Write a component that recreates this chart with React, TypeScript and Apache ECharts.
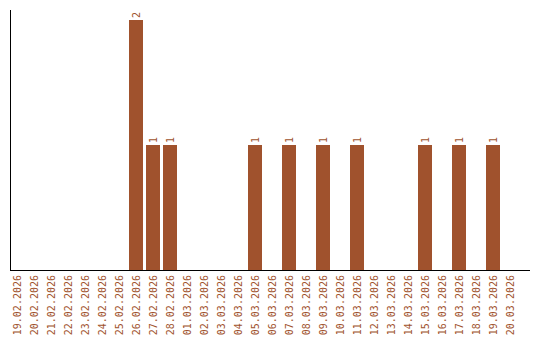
import React, { useEffect, useRef } from "react";
import * as echarts from "echarts";

const categories: string[] = [
  "19.02.2026", "20.02.2026", "21.02.2026", "22.02.2026", "23.02.2026",
  "24.02.2026", "25.02.2026", "26.02.2026", "27.02.2026", "28.02.2026",
  "01.03.2026", "02.03.2026", "03.03.2026", "04.03.2026", "05.03.2026",
  "06.03.2026", "07.03.2026", "08.03.2026", "09.03.2026", "10.03.2026",
  "11.03.2026", "12.03.2026", "13.03.2026", "14.03.2026", "15.03.2026",
  "16.03.2026", "17.03.2026", "18.03.2026", "19.03.2026", "20.03.2026",
];

const values: number[] = [
  0, 0, 0, 0, 0, 0, 0, 2, 1, 1,
  0, 0, 0, 0, 1, 0, 1, 0, 1, 0,
  1, 0, 0, 0, 1, 0, 1, 0, 1, 0,
];

const COLOR = "#A0522D";
const FONT = "DejaVu Sans Mono";

export default function App() {
  const ref = useRef<HTMLDivElement>(null);
  useEffect(() => {
    document.body.style.margin = "0";
    if (!ref.current) return;
    const chart = echarts.init(ref.current, null, { renderer: "svg" });
    chart.setOption({
      animation: false,
      grid: { left: 8.5, right: 21.5, top: 10, bottom: 70, containLabel: false },
      xAxis: {
        type: "category",
        data: categories,
        boundaryGap: true,
        axisLine: { show: false },
        axisTick: { show: false },
        axisLabel: {
          rotate: 90,
          interval: 0,
          margin: 5,
          color: COLOR,
          fontFamily: FONT,
          fontSize: 10,
        },
      },
      yAxis: {
        type: "value",
        min: 0,
        max: 2.08,
        axisLine: { show: false },
        axisTick: { show: false },
        axisLabel: { show: false },
        splitLine: { show: false },
      },
      graphic: [
        {
          type: "line",
          shape: { x1: 10.5, y1: 10, x2: 10.5, y2: 270 },
          style: { stroke: "#000", lineWidth: 1 },
          z: 10,
        },
        {
          type: "line",
          shape: { x1: 10, y1: 270.5, x2: 530, y2: 270.5 },
          style: { stroke: "#000", lineWidth: 1 },
          z: 10,
        },
      ],
      series: [
        {
          type: "bar",
          data: values.map((v) => (v === 0 ? null : v)),
          barWidth: 14,
          itemStyle: { color: COLOR },
          label: {
            show: true,
            position: "top",
            rotate: 90,
            align: "left",
            verticalAlign: "middle",
            distance: 2,
            color: COLOR,
            fontFamily: FONT,
            fontSize: 10,
          },
        },
      ],
    });
    return () => chart.dispose();
  }, []);
  return <div ref={ref} style={{ width: 540, height: 340 }} />;
}
